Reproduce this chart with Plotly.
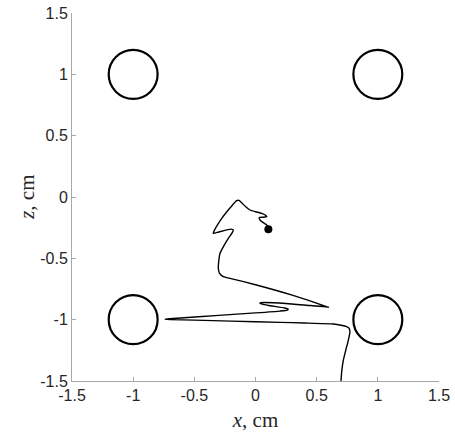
import plotly.graph_objects as go

# Obstacles (circle centers and radius), cm
circle_x = [-1, 1, -1, 1]
circle_z = [1, 1, -1, -1]
circle_r = 0.2

# Trajectory, cm
traj_x = [0.699, 0.705, 0.718, 0.74, 0.759, 0.772, 0.765, 0.745, 0.70, 0.636, 0.40, 0.20, -0.2, -0.5,
          -0.70, -0.74, -0.70, -0.3, 0.0, 0.2, 0.26, 0.268, 0.24, 0.10, 0.04, 0.037, 0.07, 0.25, 0.45,
          0.58, 0.596, 0.58, 0.3, 0.0, -0.2, -0.263, -0.295, -0.304, -0.30, -0.290, -0.26, -0.222,
          -0.19, -0.181, -0.2, -0.30, -0.345, -0.34, -0.28, -0.2, -0.154, -0.135, -0.115, -0.08,
          -0.045, 0.0, 0.051, 0.085, 0.092, 0.06, 0.031, 0.035, 0.051, 0.08, 0.092, 0.10, 0.105]
traj_z = [-1.5, -1.42, -1.33, -1.24, -1.166, -1.10, -1.07, -1.057, -1.045, -1.035, -1.027, -1.022,
          -1.012, -1.004, -0.999, -0.997, -0.992, -0.965, -0.945, -0.93, -0.922, -0.915, -0.905,
          -0.882, -0.868, -0.862, -0.86, -0.868, -0.885, -0.895, -0.899, -0.893, -0.80, -0.715,
          -0.665, -0.649, -0.62, -0.581, -0.52, -0.459, -0.40, -0.337, -0.29, -0.269, -0.262,
          -0.285, -0.296, -0.28, -0.18, -0.08, -0.030, -0.028, -0.045, -0.08, -0.106, -0.12,
          -0.133, -0.15, -0.161, -0.165, -0.166, -0.185, -0.201, -0.22, -0.228, -0.245, -0.263]

tick_vals = [-1.5, -1, -0.5, 0, 0.5, 1, 1.5]
tick_text = ["-1.5", "-1", "-0.5", "0", "0.5", "1", "1.5"]

fig = go.Figure()
fig.add_trace(go.Scatter(x=traj_x, y=traj_z, mode="lines",
                         line=dict(color="black", width=1.4, shape="spline", smoothing=0.5),
                         showlegend=False, hoverinfo="skip"))
fig.add_trace(go.Scatter(x=[traj_x[-1]], y=[traj_z[-1]], mode="markers",
                         marker=dict(color="black", size=8), showlegend=False))

shapes = []
for cx, cz in zip(circle_x, circle_z):
    shapes.append(dict(type="circle", xref="x", yref="y",
                       x0=cx - circle_r, x1=cx + circle_r, y0=cz - circle_r, y1=cz + circle_r,
                       line=dict(color="black", width=2.2)))

axis_common = dict(range=[-1.5, 1.5], tickvals=tick_vals, ticktext=tick_text,
                   showgrid=False, zeroline=False, showline=True, linecolor="#a8a8a8",
                   linewidth=1, ticks="inside", ticklen=4, tickcolor="#a8a8a8",
                   tickfont=dict(family="Liberation Sans, Arial", size=16, color="#262626"),
                   mirror=False, automargin=False, ticklabeloverflow="allow")

title_font = dict(family="Liberation Serif, Times New Roman", size=21, color="#262626")

fig.update_layout(
    width=455, height=432,
    margin=dict(l=72, r=16, t=13, b=51),
    paper_bgcolor="white", plot_bgcolor="white",
    shapes=shapes,
    xaxis=dict(**axis_common, title=dict(text="<i>x</i>, cm", font=title_font)),
    yaxis=dict(**axis_common),
    annotations=[dict(text="<i>z</i>, cm", xref="paper", yref="paper", x=-0.123, y=0.5,
                      xanchor="center", yanchor="middle", textangle=-90, showarrow=False,
                      font=title_font)],
)

# remove the default page margin so the figure sits at the window's top-left corner
fig.write_html("out.html", post_script="document.body.style.margin='0';",
               config={"displayModeBar": False})
